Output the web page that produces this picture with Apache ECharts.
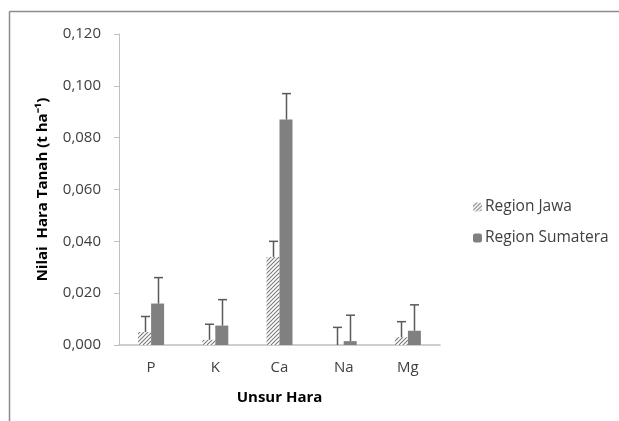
<!DOCTYPE html>
<html>
<head>
<meta charset="utf-8">
<script src="https://cdn.jsdelivr.net/npm/echarts@6/dist/echarts.min.js"></script>
<style>html,body{margin:0;padding:0;background:#fff;}#c{width:619px;height:421px;}</style>
</head>
<body>
<div id="c"></div>
<script>
const categories = ['P', 'K', 'Ca', 'Na', 'Mg'];
const jawaValues = [0.005, 0.002, 0.034, 0.000, 0.003];
const jawaErrors = [0.006, 0.006, 0.006, 0.0068, 0.006];
const sumateraValues = [0.016, 0.0075, 0.087, 0.0015, 0.0055];
const sumateraErrors = [0.010, 0.010, 0.010, 0.010, 0.010];
const yTicks = { min: 0, max: 0.12, interval: 0.02 };
const seriesNames = ['Region Jawa', 'Region Sumatera'];

const FONT = '"Open Sans", sans-serif';
const BAR_W = 13;

function makeHatch() {
  const c = document.createElement('canvas');
  c.width = 4; c.height = 4;
  const ctx = c.getContext('2d');
  ctx.fillStyle = '#ffffff';
  ctx.fillRect(0, 0, 4, 4);
  ctx.strokeStyle = '#7a7a7a';
  ctx.lineWidth = 1.1;
  ctx.beginPath();
  ctx.moveTo(0, 4); ctx.lineTo(4, 0);
  ctx.moveTo(-1, 1); ctx.lineTo(1, -1);
  ctx.moveTo(3, 5); ctx.lineTo(5, 3);
  ctx.stroke();
  return c;
}
const hatch = { image: makeHatch(), repeat: 'repeat' };

function errSeries(name, values, errors, offset) {
  return {
    type: 'custom',
    name: name + ' err',
    z: 5,
    data: values.map((v, i) => [i, v, v + errors[i]]),
    renderItem: function (params, api) {
      const i = api.value(0);
      const p0 = api.coord([i, api.value(1)]);
      const p1 = api.coord([i, api.value(2)]);
      const x = Math.round(p0[0] + offset) + 0.5;
      const style = { stroke: '#595959', lineWidth: 1.5 };
      return {
        type: 'group',
        children: [
          { type: 'line', shape: { x1: x, y1: p0[1], x2: x, y2: p1[1] }, style: style },
          { type: 'line', shape: { x1: x - 4.5, y1: p1[1], x2: x + 4.5, y2: p1[1] }, style: style }
        ]
      };
    },
    silent: true,
    tooltip: { show: false }
  };
}

const chart = echarts.init(document.getElementById('c'), null, { renderer: 'canvas' });
chart.setOption({
  animation: false,
  backgroundColor: '#ffffff',
  textStyle: { fontFamily: FONT },
  graphic: [
    { type: 'line', shape: { x1: 9.5, y1: 11.5, x2: 619, y2: 11.5 }, style: { stroke: '#8c8c8c', lineWidth: 1.5 } },
    { type: 'line', shape: { x1: 9.5, y1: 11.5, x2: 9.5, y2: 421 }, style: { stroke: '#8c8c8c', lineWidth: 1.5 } }
  ],
  grid: { left: 119, right: 179, top: 34, bottom: 76, containLabel: false },
  legend: {
    data: seriesNames,
    orient: 'vertical',
    left: 468,
    top: 194,
    itemWidth: 9,
    itemHeight: 9,
    itemGap: 15,
    textStyle: { fontFamily: FONT, fontSize: 15.5, color: '#404040', padding: [0, 0, 0, -2] }
  },
  xAxis: {
    type: 'category',
    data: categories,
    axisLine: { lineStyle: { color: '#bfbfbf', width: 1.5 } },
    axisTick: { show: false },
    axisLabel: { fontFamily: FONT, fontSize: 15, color: '#404040', margin: 15 },
    name: 'Unsur Hara',
    nameLocation: 'middle',
    nameGap: 45,
    nameTextStyle: { fontFamily: FONT, fontSize: 15, fontWeight: 'bold', color: '#000' }
  },
  yAxis: {
    type: 'value',
    min: yTicks.min,
    max: yTicks.max,
    interval: yTicks.interval,
    axisLine: { show: true, lineStyle: { color: '#bfbfbf', width: 1 } },
    axisTick: { show: true, length: 5, lineStyle: { color: '#bfbfbf' } },
    splitLine: { show: false },
    axisLabel: {
      fontFamily: FONT, fontSize: 15, color: '#404040', margin: 18,
      formatter: v => v.toFixed(3).replace('.', ',')
    },
    name: 'Nilai  Hara Tanah (t ha⁻¹)',
    nameLocation: 'middle',
    nameGap: 69,
    nameRotate: 90,
    nameTextStyle: { fontFamily: FONT, fontSize: 15, fontWeight: 'bold', color: '#000' }
  },
  series: [
    {
      type: 'bar', name: seriesNames[0], data: jawaValues, barWidth: BAR_W, barGap: '0%',
      itemStyle: { color: hatch }
    },
    {
      type: 'bar', name: seriesNames[1], data: sumateraValues, barWidth: BAR_W, barGap: '0%',
      itemStyle: { color: '#808080' }
    },
    errSeries(seriesNames[0], jawaValues, jawaErrors, -BAR_W / 2),
    errSeries(seriesNames[1], sumateraValues, sumateraErrors, BAR_W / 2)
  ]
});
</script>
</body>
</html>
